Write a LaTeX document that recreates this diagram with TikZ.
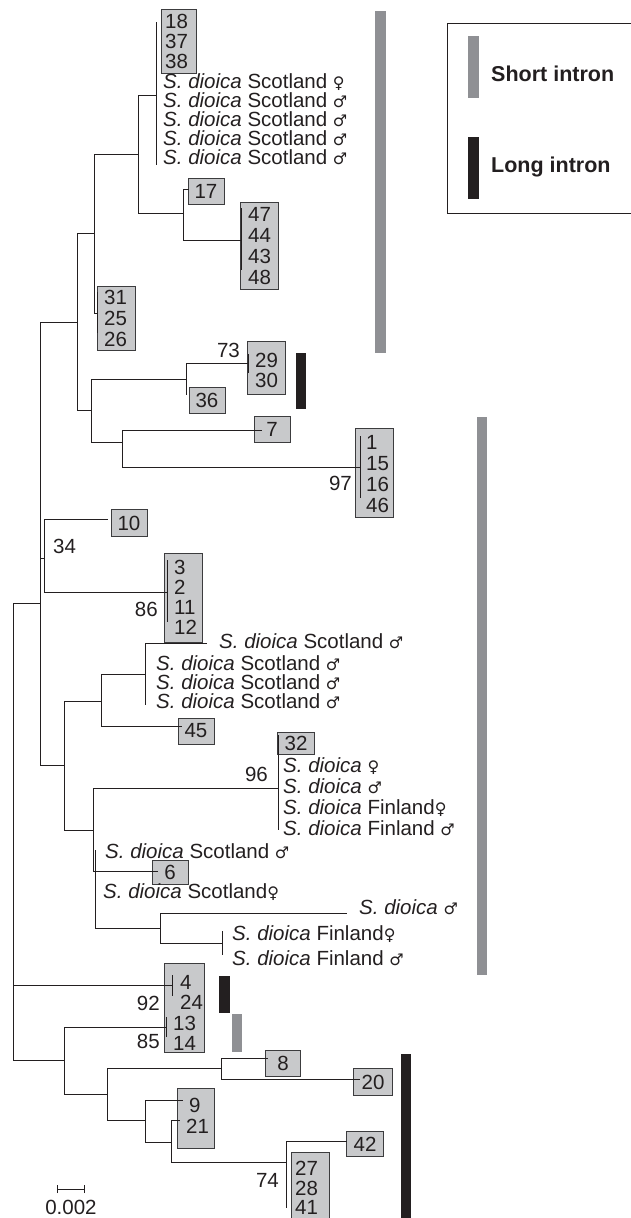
\documentclass[tikz,border=0pt]{standalone}
\usepackage{fontspec}
\setmainfont{Liberation Sans}
\newfontfamily\symf{DejaVu Sans}
\definecolor{treec}{RGB}{35,31,32}
\definecolor{boxf}{RGB}{200,201,203}
\definecolor{boxb}{RGB}{60,60,62}
\definecolor{barg}{RGB}{143,144,148}
\definecolor{bark}{RGB}{35,31,32}
\newcommand\labf{\fontsize{20.5}{24}\selectfont}
\newcommand\smale{\smash{\symf\fontsize{16}{16}\selectfont ♂}}
\newcommand\sfem{\smash{\symf\fontsize{16}{16}\selectfont ♀}}
\newcommand\sd{\textit{S. dioica}}
\newcommand\tl[4]{\node[lab] (#1) at (#2,#3+7.2) {#4};}
\newcommand\tre[4]{\node[labE] (#1) at (#2,#3+7.2) {#4};}
\tikzset{
 br/.style={line width=1pt, draw=treec},
 gbox/.style={draw=boxb, fill=boxf, line width=1pt, inner sep=0pt, rectangle, anchor=north west},
 sbox/.style={draw=boxb, fill=boxf, line width=1pt, inner sep=0pt, rectangle, minimum width=36pt, minimum height=26pt, font=\labf, text=treec},
 lab/.style={anchor=base west, inner sep=0pt, font=\labf, text=treec},
 labE/.style={anchor=base east, inner sep=0pt, font=\labf, text=treec},
 gbar/.style={fill=barg, draw=none, inner sep=0pt, anchor=north west},
 kbar/.style={fill=bark, draw=none, inner sep=0pt, anchor=north west},
}
\begin{document}
\begin{tikzpicture}[x=1pt,y=-1pt]
\useasboundingbox (0,0) rectangle (630,1218);
% ---------- boxes ----------
\node[gbox, minimum width=35pt, minimum height=64pt] (b18) at (161,9) {};
\node[sbox] (b17) at (206,191) {17};
\node[gbox, minimum width=38pt, minimum height=87pt] (b47) at (240,202) {};
\node[gbox, minimum width=38pt, minimum height=64pt] (b31) at (97,286) {};
\node[gbox, minimum width=38pt, minimum height=53pt] (b29) at (247,341) {};
\node[sbox] (b36) at (207,400) {36};
\node[sbox] (b7) at (272,429) {7};
\node[gbox, minimum width=38pt, minimum height=89pt] (b1) at (355,428) {};
\node[sbox, minimum height=27pt] (b10) at (129,523) {10};
\node[gbox, minimum width=38pt, minimum height=89pt] (b3) at (164,553) {};
\node[sbox] (b45) at (196,731) {45};
\node[sbox, minimum width=37pt, minimum height=22pt] (b32) at (296,743) {32};
\node[sbox, minimum height=24pt] (b6) at (170,872) {6};
\node[gbox, minimum width=40pt, minimum height=89pt] (b4) at (164,963) {};
\node[sbox, minimum width=35pt] (b8) at (283,1063) {8};
\node[sbox, minimum width=39pt, minimum height=27pt] (b20) at (373,1082) {20};
\node[gbox, minimum width=37pt, minimum height=60pt] (b9) at (177,1088) {};
\node[sbox, minimum width=37pt, minimum height=25pt] (b42) at (365,1144) {42};
\node[gbox, minimum width=38pt, minimum height=80pt] (b27) at (291,1152) {};
% ---------- numbers in boxes ----------
\tl{t18}{165}{21.5}{18} \tl{t37}{165}{41.5}{37} \tl{t38}{165}{61.5}{38}
\tl{t47}{248}{214}{47} \tl{t44}{248}{235}{44} \tl{t43}{248}{256}{43} \tl{t48}{248}{277}{48}
\tl{t31}{104}{297}{31} \tl{t25}{104}{318}{25} \tl{t26}{104}{339}{26}
\tl{t29}{255}{360}{29} \tl{t30}{255}{380}{30}
\tl{t1}{366}{442}{1} \tl{t15}{366}{463}{15} \tl{t16}{366}{484}{16} \tl{t46}{366}{505}{46}
\tl{t3}{174}{567}{3} \tl{t2}{174}{587}{2} \tl{t11}{174}{607}{11} \tl{t12}{174}{627}{12}
\tl{t4}{180}{982}{4} \tl{t24}{180}{1002}{24} \tl{t13}{173}{1023}{13} \tl{t14}{173}{1043}{14}
\tl{t9}{189}{1105}{9} \tl{t21}{186}{1126}{21}
\tl{t27}{295}{1168}{27} \tl{t28}{295}{1188}{28} \tl{t41}{295}{1207}{41}
% ---------- taxon labels ----------
\tl{s1}{163}{81}{\sd{} Scotland \sfem}
\tl{s2}{163}{100}{\sd{} Scotland \smale}
\tl{s3}{163}{119}{\sd{} Scotland \smale}
\tl{s4}{163}{138}{\sd{} Scotland \smale}
\tl{s5}{163}{157}{\sd{} Scotland \smale}
\tl{s6}{219}{641}{\sd{} Scotland \smale}
\tl{s7}{156}{663}{\sd{} Scotland \smale}
\tl{s8}{156}{682}{\sd{} Scotland \smale}
\tl{s9}{156}{701}{\sd{} Scotland \smale}
\tl{s10}{283}{765}{\sd{} \sfem}
\tl{s11}{283}{786}{\sd{} \smale}
\tl{s12}{283}{807}{\sd{} Finland\sfem}
\tl{s13}{283}{828}{\sd{} Finland \smale}
\tl{s14}{105}{851}{\sd{} Scotland \smale}
\tl{s15}{103}{891}{\sd{} Scotland\sfem}
\tl{s16}{359}{907}{\sd{} \smale}
\tl{s17}{232}{933}{\sd{} Finland\sfem}
\tl{s18}{232}{958}{\sd{} Finland \smale}
% ---------- support values ----------
\tre{v73}{240}{350}{73}
\tre{v97}{352}{483}{97}
\tl{v34}{53}{546}{34}
\tre{v86}{158}{609}{86}
\tre{v96}{268}{774}{96}
\tre{v92}{160}{1003}{92}
\tre{v85}{160}{1041}{85}
\tre{v74}{279}{1180}{74}
% ---------- bars ----------
\node[gbar, minimum width=11pt, minimum height=342pt] (g1) at (375,11) {};
\node[gbar, minimum width=10pt, minimum height=558pt] (g2) at (477,417) {};
\node[kbar, minimum width=10pt, minimum height=56pt] (k1) at (296,353) {};
\node[kbar, minimum width=11pt, minimum height=37pt] (k2) at (219,976) {};
\node[gbar, minimum width=10pt, minimum height=38pt] (g3) at (232,1014) {};
\node[kbar, minimum width=10pt, minimum height=170pt] (k3) at (401,1054) {};
% ---------- legend ----------
\node[draw=treec, line width=1pt, inner sep=0pt, anchor=north west, minimum width=193pt, minimum height=190pt] (leg) at (447,23) {};
\node[gbar, minimum width=11pt, minimum height=62pt] (lg) at (468,36) {};
\node[kbar, minimum width=11pt, minimum height=62pt] (lk) at (468,137) {};
\node[anchor=base west, inner sep=0pt, text=treec, font=\fontsize{21.5}{24}\selectfont\bfseries] (lgt) at (491,81) {Short intron};
\node[anchor=base west, inner sep=0pt, text=treec, font=\fontsize{21.5}{24}\selectfont\bfseries] (lkt) at (491,172.5) {Long intron};
% ---------- tree coordinates ----------
\coordinate (R) at (13,603);
\coordinate (N40) at (40,603);
\coordinate (U77) at (77,322);
\coordinate (A94) at (94,233);
\coordinate (C138) at (138,154);
\coordinate (T156) at (156,95);
\coordinate (T156a) at (156,22);
\coordinate (T156b) at (156,165);
\coordinate (D183) at (183,213);
\coordinate (L17) at (189,189);
\coordinate (K47) at (241,240);
\coordinate (K47a) at (241,208);
\coordinate (K47b) at (241,270);
\coordinate (K31) at (97,313);
\coordinate (K31a) at (97,292);
\coordinate (K31b) at (97,333);
\coordinate (B91) at (91,410);
\coordinate (E186) at (186,379);
\coordinate (K29) at (248,363);
\coordinate (K29a) at (248,354);
\coordinate (K29b) at (248,373);
\coordinate (L36) at (186,395);
\coordinate (F122) at (122,442);
\coordinate (L7) at (262,430);
\coordinate (K1) at (360,467);
\coordinate (K1a) at (360,436);
\coordinate (K1b) at (360,498);
\coordinate (N44) at (44,558);
\coordinate (L10) at (108,519);
\coordinate (K3) at (167,592);
\coordinate (K3a) at (167,560);
\coordinate (K3b) at (167,622);
\coordinate (N64) at (64,765);
\coordinate (G101) at (101,701);
\coordinate (I145) at (145,674);
\coordinate (Lsc1) at (207,643);
\coordinate (Lsc4) at (145,705);
\coordinate (L45) at (182,726);
\coordinate (H93) at (93,830);
\coordinate (K96) at (278,788);
\coordinate (K96a) at (278,735);
\coordinate (K96b) at (278,830);
\coordinate (J95) at (95,871);
\coordinate (L6) at (158,871);
\coordinate (LscM) at (95,850);
\coordinate (LscF) at (95,892);
\coordinate (K160) at (160,928);
\coordinate (LdM) at (347,913);
\coordinate (L222) at (222,943);
\coordinate (L222a) at (222,931);
\coordinate (L222b) at (222,955);
\coordinate (K4) at (172,985);
\coordinate (K4a) at (172,975);
\coordinate (K4b) at (172,996);
\coordinate (M64) at (64,1060);
\coordinate (K13) at (166,1027);
\coordinate (K13a) at (166,1017);
\coordinate (K13b) at (166,1037);
\coordinate (P107) at (107,1094);
\coordinate (Q221) at (221,1068);
\coordinate (L8) at (268,1058);
\coordinate (L20) at (360,1079);
\coordinate (S145) at (145,1120);
\coordinate (L9) at (183,1100);
\coordinate (T171) at (171,1142);
\coordinate (L21) at (180,1120);
\coordinate (U286) at (286,1162);
\coordinate (L42) at (347,1141);
\coordinate (L27) at (286,1208);
% ---------- branches ----------
\draw[br] (R) |- (N40);  \draw[br] (R) |- (K4);  \draw[br] (R) |- (M64);
\draw[br] (N40) |- (U77); \draw[br] (N40) |- (N44); \draw[br] (N40) |- (N64);
\draw[br] (U77) |- (A94); \draw[br] (U77) |- (B91);
\draw[br] (A94) |- (C138); \draw[br] (A94) |- (K31);
\draw[br] (C138) |- (T156); \draw[br] (C138) |- (D183);
\draw[br] (T156a) -- (T156b);
\draw[br] (D183) |- (L17); \draw[br] (D183) |- (K47);
\draw[br] (K47a) -- (K47b);
\draw[br] (K31a) -- (K31b);
\draw[br] (B91) |- (E186); \draw[br] (B91) |- (F122);
\draw[br] (E186) |- (K29); \draw[br] (E186) |- (L36);
\draw[br] (K29a) -- (K29b);
\draw[br] (F122) |- (L7); \draw[br] (F122) |- (K1);
\draw[br] (K1a) -- (K1b);
\draw[br] (N44) |- (L10); \draw[br] (N44) |- (K3);
\draw[br] (K3a) -- (K3b);
\draw[br] (N64) |- (G101); \draw[br] (N64) |- (H93);
\draw[br] (G101) |- (I145); \draw[br] (G101) |- (L45);
\draw[br] (I145) |- (Lsc1); \draw[br] (I145) |- (Lsc4);
\draw[br] (H93) |- (K96); \draw[br] (H93) |- (J95);
\draw[br] (K96a) -- (K96b);
\draw[br] (H93) |- (L6);
\draw[br] (J95) |- (LscM); \draw[br] (J95) |- (LscF); \draw[br] (J95) |- (K160);
\draw[br] (K160) |- (LdM); \draw[br] (K160) |- (L222);
\draw[br] (L222a) -- (L222b);
\draw[br] (K4a) -- (K4b);
\draw[br] (M64) |- (K13); \draw[br] (M64) |- (P107);
\draw[br] (K13a) -- (K13b);
\draw[br] (P107) |- (Q221); \draw[br] (P107) |- (S145);
\draw[br] (Q221) |- (L8); \draw[br] (Q221) |- (L20);
\draw[br] (S145) |- (L9); \draw[br] (S145) |- (T171);
\draw[br] (T171) |- (L21); \draw[br] (T171) |- (U286);
\draw[br] (U286) |- (L42); \draw[br] (U286) |- (L27);
% ---------- scale bar ----------
\coordinate (sb1) at (57,1189);
\coordinate (sb2) at (84,1189);
\draw[br] (sb1) -- (sb2);
\draw[br] ([yshift=-4pt]sb1) -- ([yshift=4pt]sb1);
\draw[br] ([yshift=-4pt]sb2) -- ([yshift=4pt]sb2);
\node[anchor=base, inner sep=0pt, font=\labf, text=treec] (sbt) at (71,1214) {0.002};
\end{tikzpicture}
\end{document}
